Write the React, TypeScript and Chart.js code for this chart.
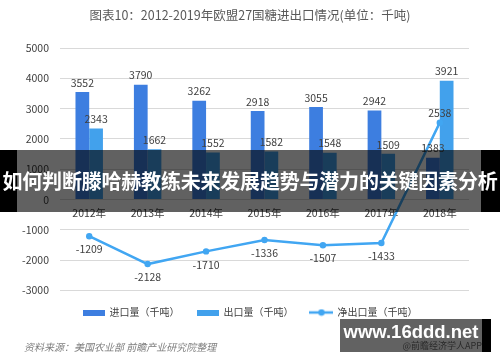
import React, { useEffect, useRef } from "react";
import { Chart, registerables } from "chart.js";

Chart.register(...registerables);

const categories = ["2012年", "2013年", "2014年", "2015年", "2016年", "2017年", "2018年"];
const importValues = [3552, 3790, 3262, 2918, 3055, 2942, 1383];
const exportValues = [2343, 1662, 1552, 1582, 1548, 1509, 3921];
const netValues = [-1209, -2128, -1710, -1336, -1507, -1433, 2538];
const seriesNames = ["进口量（千吨）", "出口量（千吨）", "净出口量（千吨）"];
const titleText = "图表10：2012-2019年欧盟27国糖进出口情况(单位：千吨)";
const sourceText = "资料来源：美国农业部 前瞻产业研究院整理";
const bannerText = "如何判断滕哈赫教练未来发展趋势与潜力的关键因素分析";

const IMPORT_COLOR = "#3d7ee0";
const EXPORT_COLOR = "#42a1ec";
const NET_COLOR = "#41a6f2";
const FONT = "'Noto Sans CJK SC', 'Noto Sans', sans-serif";

function makeRectIcon(color: string) {
  const c = document.createElement("canvas");
  c.width = 22;
  c.height = 6;
  const ctx = c.getContext("2d")!;
  ctx.fillStyle = color;
  ctx.fillRect(0, 0, 22, 6);
  return c;
}

function makeLineIcon(color: string) {
  const c = document.createElement("canvas");
  c.width = 24;
  c.height = 8;
  const ctx = c.getContext("2d")!;
  ctx.strokeStyle = color;
  ctx.lineWidth = 2.5;
  ctx.beginPath();
  ctx.moveTo(0, 4);
  ctx.lineTo(24, 4);
  ctx.stroke();
  ctx.fillStyle = color;
  ctx.beginPath();
  ctx.arc(12, 4, 3.2, 0, Math.PI * 2);
  ctx.fill();
  return c;
}

const dataLabels = {
  id: "dataLabels",
  afterDatasetsDraw(chart: any) {
    const ctx = chart.ctx;
    ctx.save();
    ctx.font = `10.5px ${FONT}`;
    ctx.fillStyle = "#404040";
    ctx.textAlign = "center";
    chart.data.datasets.forEach((ds: any, di: number) => {
      const meta = chart.getDatasetMeta(di);
      meta.data.forEach((el: any, i: number) => {
        const v = ds.data[i];
        if (ds.type === "line") {
          if (v >= 0) {
            ctx.textBaseline = "bottom";
            ctx.fillText(String(v), el.x, el.y - 4);
          } else {
            ctx.textBaseline = "top";
            ctx.fillText(String(v), el.x, el.y + 8);
          }
        } else {
          ctx.textBaseline = "bottom";
          ctx.fillText(String(v), el.x, el.y - 4);
        }
      });
    });
    ctx.restore();
  },
};

function ChartView() {
  const ref = useRef<HTMLCanvasElement | null>(null);
  useEffect(() => {
    if (!ref.current) return;
    Chart.defaults.font.family = FONT;
    const icons = [makeRectIcon(IMPORT_COLOR), makeRectIcon(EXPORT_COLOR), makeLineIcon(NET_COLOR)];
    const chart = new Chart(ref.current, {
      type: "bar",
      data: {
        labels: categories,
        datasets: [
          {
            type: "bar",
            label: seriesNames[0],
            data: importValues,
            backgroundColor: IMPORT_COLOR,
            categoryPercentage: 0.47,
            barPercentage: 1.0,
            order: 1,
          },
          {
            type: "bar",
            label: seriesNames[1],
            data: exportValues,
            backgroundColor: EXPORT_COLOR,
            categoryPercentage: 0.47,
            barPercentage: 1.0,
            order: 1,
          },
          {
            type: "line",
            label: seriesNames[2],
            data: netValues,
            borderColor: NET_COLOR,
            backgroundColor: NET_COLOR,
            borderWidth: 2.5,
            pointRadius: 3.2,
            pointBackgroundColor: NET_COLOR,
            pointBorderWidth: 0,
            tension: 0,
            order: 0,
          } as any,
        ],
      },
      options: {
        animation: false,
        responsive: false,
        maintainAspectRatio: false,
        devicePixelRatio: 1,
        layout: { padding: { left: 0, right: 0, top: 0, bottom: 34.5 } },
        plugins: {
          title: {
            display: true,
            text: titleText,
            color: "#595959",
            font: { size: 12.5, family: FONT, weight: "normal" },
            padding: { top: 8, bottom: 25 },
          },
          legend: {
            display: true,
            position: "bottom",
            labels: {
              usePointStyle: true,
              pointStyleWidth: 22,
              boxHeight: 10,
              padding: 17,
              color: "#404040",
              font: { size: 10, family: FONT },
              generateLabels: (ch: any) =>
                ch.data.datasets.map((ds: any, i: number) => ({
                  text: ds.label,
                  pointStyle: icons[i],
                  fillStyle: ds.backgroundColor,
                  strokeStyle: ds.backgroundColor,
                  lineWidth: 0,
                  hidden: false,
                  datasetIndex: i,
                  fontColor: "#404040",
                })),
            },
          },
          tooltip: { enabled: false },
        },
        scales: {
          x: {
            position: { y: 0 } as any,
            grid: { display: false, drawTicks: false },
            border: { display: false },
            ticks: { color: "#404040", font: { size: 10.5, family: FONT }, padding: 7, maxRotation: 0 },
            afterFit: (s: any) => {
              s.height = 0;
            },
          },
          y: {
            min: -3000,
            max: 5000,
            grid: { color: "#d9d9d9", drawTicks: false, lineWidth: 1 },
            border: { display: false },
            ticks: {
              stepSize: 1000,
              color: "#404040",
              font: { size: 10.5, family: FONT },
              padding: 11,
              callback: (v: any) => String(v),
            },
            afterFit: (s: any) => {
              s.width = 60;
            },
          },
          yPad: {
            position: "right",
            display: true,
            min: -3000,
            max: 5000,
            grid: { display: false, drawTicks: false },
            border: { display: false },
            ticks: { display: false },
            afterFit: (s: any) => {
              s.width = 31;
            },
          },
        },
      },
      plugins: [dataLabels],
    } as any);
    return () => chart.destroy();
  }, []);
  return <canvas ref={ref} width={500} height={362} style={{ display: "block", width: 500, height: 362 }} />;
}

export default function App() {
  return (
    <div style={{ position: "absolute", left: 0, top: 0, width: 500, height: 362, background: "#fff", overflow: "hidden", fontFamily: FONT }}>
      <ChartView />
      <div
        style={{
          position: "absolute",
          left: 24,
          top: 339,
          fontSize: 10,
          fontStyle: "italic",
          color: "#7f7f7f",
          whiteSpace: "nowrap",
          lineHeight: "16px",
        }}
      >
        {sourceText}
      </div>
      <div style={{ position: "absolute", left: 0, top: 150, width: 17, height: 62, background: "#000" }} />
      <div style={{ position: "absolute", left: 481, top: 150, width: 19, height: 62, background: "#000" }} />
      <div style={{ position: "absolute", left: 17, top: 150, width: 464, height: 62, background: "rgba(0,0,0,0.62)" }} />
      <div
        style={{
          position: "absolute",
          left: 0,
          top: 150,
          width: 500,
          height: 62,
          lineHeight: "62px",
          textAlign: "center",
          color: "#fff",
          fontWeight: "bold",
          fontSize: 20,
          whiteSpace: "nowrap",
          letterSpacing: -0.2,
        }}
      >
        {bannerText}
      </div>
      <div style={{ position: "absolute", left: 340, top: 319, width: 142, height: 33, background: "rgba(70,70,70,0.85)" }} />
      <div style={{ position: "absolute", left: 482, top: 319, width: 9, height: 33, background: "#000" }} />
      <div
        style={{
          position: "absolute",
          left: 340,
          top: 340,
          width: 142,
          textAlign: "right",
          fontSize: 9,
          color: "#2a2a2a",
          lineHeight: "11px",
          whiteSpace: "nowrap",
        }}
      >
        @前瞻经济学人APP
      </div>
      <div
        style={{
          position: "absolute",
          left: 340,
          top: 320,
          width: 142,
          textAlign: "center",
          fontSize: 18.5,
          fontWeight: "bold",
          color: "#fff",
          lineHeight: "24px",
          whiteSpace: "nowrap",
          fontFamily: "'Liberation Sans', Arial, sans-serif",
        }}
      >
        www.16ddd.net
      </div>
    </div>
  );
}
